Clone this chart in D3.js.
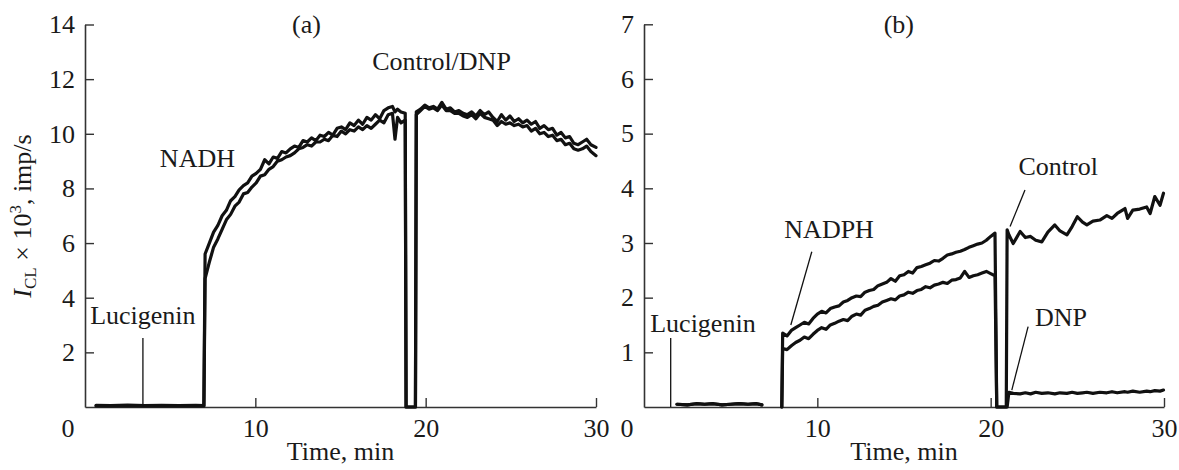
<!DOCTYPE html>
<html>
<head>
<meta charset="utf-8">
<script src="https://cdn.jsdelivr.net/npm/d3@7"></script>
<style>
  html, body { margin: 0; padding: 0; background: #fff; }
  svg { display: block; }
  text { font-family: 'Liberation Serif', 'Times New Roman', serif; fill: #1a1a1a; }
</style>
</head>
<body>
<script>
// ---------- Panel (a): NADH, two runs (Control / DNP) ----------
const timeA = [0.65,1.5,2.5,3.5,4.5,5.5,6.5,6.98,
  7.05,7.3,7.55,7.8,8.05,8.3,8.55,8.8,9.05,9.3,9.55,9.8,10.05,10.3,10.55,10.8,11.05,11.3,11.55,11.8,
  12.05,12.3,12.55,12.8,13.05,13.3,13.55,13.8,14.05,14.3,14.55,14.8,15.05,15.3,15.55,15.8,16.05,16.3,
  16.55,16.8,17.05,17.3,17.55,17.8,18.05,18.2,18.35,18.55,18.8,18.85,19.4,
  19.45,19.7,19.95,20.2,20.45,20.7,20.95,21.2,21.45,21.7,21.95,22.2,22.45,22.7,22.95,23.2,23.45,23.7,
  23.95,24.2,24.45,24.7,24.95,25.2,25.45,25.7,25.95,26.2,26.45,26.7,26.95,27.2,27.45,27.7,27.95,28.2,
  28.45,28.7,28.95,29.2,29.45,29.7,30.0];
const upperA = [0.06,0.05,0.07,0.05,0.06,0.05,0.06,0.05,
  5.6,6.0,6.4,6.65,7.0,7.2,7.55,7.7,7.95,8.1,8.2,8.45,8.55,8.7,9.05,8.9,9.15,9.1,9.35,9.3,
  9.45,9.55,9.5,9.75,9.7,9.85,9.75,9.95,9.9,10.05,9.95,10.2,10.25,10.15,10.4,10.3,10.5,10.35,
  10.6,10.5,10.7,10.55,10.85,10.95,11.0,10.8,10.9,10.8,10.75,0,0,
  10.8,10.9,11.05,10.95,11.0,10.9,11.15,10.9,10.95,10.8,10.85,10.75,10.7,10.8,10.65,10.85,10.7,10.8,
  10.6,10.45,10.7,10.5,10.65,10.45,10.55,10.4,10.5,10.35,10.45,10.2,10.3,10.15,10.2,9.95,10.05,9.85,
  9.9,9.65,9.6,9.7,9.8,9.6,9.5];
const lowerA = [0.04,0.04,0.05,0.04,0.05,0.04,0.04,0.04,
  4.7,5.3,5.85,6.15,6.5,6.85,7.05,7.35,7.5,7.8,7.85,8.05,8.2,8.45,8.5,8.7,8.8,9.0,9.05,9.15,
  9.2,9.3,9.45,9.5,9.6,9.55,9.7,9.7,9.8,9.75,9.95,9.9,10.1,10.0,10.15,10.1,10.25,10.15,
  10.3,10.2,10.35,10.5,10.4,10.7,10.75,9.8,10.6,10.4,10.5,0,0,
  10.7,10.85,11.0,10.9,10.95,10.85,11.05,10.85,10.85,10.75,10.75,10.65,10.6,10.7,10.55,10.75,10.6,10.55,
  10.5,10.3,10.45,10.35,10.4,10.3,10.35,10.25,10.3,10.1,10.2,10.0,10.05,9.9,9.95,9.75,9.8,9.6,
  9.65,9.45,9.4,9.45,9.55,9.35,9.2];

// ---------- Panel (b): NADPH, Control / DNP ----------
const timeB = [1.9,2.5,3.0,3.5,4.0,4.5,5.0,5.5,6.0,6.5,6.8,6.9,7.95,
  8.0,8.25,8.5,8.75,9.0,9.25,9.5,9.75,10.0,10.25,10.5,10.75,11.0,11.25,11.5,11.75,12.0,12.25,12.5,
  12.75,13.0,13.25,13.5,13.75,14.0,14.25,14.5,14.75,15.0,15.25,15.5,15.75,16.0,16.25,16.5,16.75,17.0,
  17.25,17.5,17.75,18.0,18.25,18.5,18.75,19.0,19.25,19.5,19.75,20.0,20.25,20.35,20.9,
  20.95,21.05,21.3,21.7,22.0,22.3,22.6,22.95,23.3,23.7,24.0,24.4,24.7,25.0,25.3,25.55,25.9,26.3,
  26.7,27.0,27.3,27.75,27.9,28.2,28.6,29.0,29.2,29.47,29.77,29.97];
const controlB = [0.05,0.04,0.06,0.05,0.06,0.04,0.05,0.06,0.05,0.06,0.04,null,0,
  1.35,1.3,1.4,1.45,1.5,1.55,1.52,1.62,1.7,1.75,1.72,1.8,1.83,1.85,1.92,1.95,2.0,2.03,2.02,
  2.1,2.13,2.15,2.22,2.25,2.28,2.35,2.3,2.4,2.42,2.48,2.45,2.55,2.57,2.6,2.63,2.68,2.67,
  2.72,2.78,2.8,2.83,2.85,2.88,2.92,2.95,2.98,3.0,3.05,3.12,3.18,0,0,
  3.24,3.15,2.99,3.21,3.1,3.12,3.05,3.02,3.2,3.33,3.22,3.15,3.3,3.48,3.38,3.33,3.4,3.42,
  3.5,3.45,3.54,3.63,3.45,3.6,3.62,3.66,3.54,3.85,3.69,3.91];
const dnpB = [0.05,0.04,0.06,0.05,0.06,0.04,0.05,0.06,0.05,0.06,0.04,null,0,
  1.07,1.05,1.12,1.18,1.22,1.28,1.25,1.33,1.4,1.45,1.42,1.5,1.53,1.57,1.6,1.58,1.66,1.7,1.68,
  1.77,1.8,1.84,1.86,1.92,1.95,1.98,1.96,2.03,2.05,2.1,2.08,2.13,2.15,2.2,2.18,2.23,2.25,
  2.28,2.26,2.32,2.33,2.36,2.48,2.37,2.4,2.42,2.45,2.48,2.44,2.4,0,0,
  0,0.27,0.25,0.24,0.26,0.24,0.27,0.25,0.26,0.24,0.26,0.25,0.27,0.25,0.26,0.27,0.25,0.27,
  0.26,0.28,0.26,0.28,0.27,0.29,0.27,0.29,0.28,0.30,0.29,0.31];

// ---------- Axis ticks ----------
const xTicks = [10, 20, 30];
const yTicksA = [2, 4, 6, 8, 10, 12, 14];
const yTicksB = [1, 2, 3, 4, 5, 6, 7];

const W = 1179, H = 470, FS = 26;
const svg = d3.select("body").append("svg").attr("width", W).attr("height", H);

const xA = d3.scaleLinear().domain([0, 30]).range([85, 596]);
const yA = d3.scaleLinear().domain([0, 14]).range([407, 24.5]);
const xB = d3.scaleLinear().domain([0, 30]).range([644, 1164]);
const yB = d3.scaleLinear().domain([0, 7]).range([407, 24.3]);

function drawAxes(x, y, yTicks) {
  const gx = svg.append("g").attr("transform", `translate(0,${y(0)})`)
    .call(d3.axisBottom(x).tickValues(xTicks).tickFormat(d3.format("d"))
      .tickSizeInner(-9).tickSizeOuter(0).tickPadding(11.5));
  const gy = svg.append("g").attr("transform", `translate(${x(0)},0)`)
    .call(d3.axisLeft(y).tickValues(yTicks).tickFormat(d3.format("d"))
      .tickSizeInner(-9).tickSizeOuter(0).tickPadding(10));
  [gx, gy].forEach(g => {
    g.select(".domain").attr("stroke", "#333").attr("stroke-width", 1.6);
    g.selectAll(".tick line").attr("stroke", "#333").attr("stroke-width", 1.4);
    g.selectAll(".tick text").attr("font-size", FS).attr("fill", "#1a1a1a")
      .attr("font-family", "'Liberation Serif', 'Times New Roman', serif");
  });
  svg.append("text").attr("x", x(0) - 17).attr("y", 437).attr("text-anchor", "middle")
    .attr("font-size", FS).text("0");
  svg.append("text").attr("x", (x.range()[0] + x.range()[1]) / 2).attr("y", 460)
    .attr("text-anchor", "middle").attr("font-size", FS).text("Time, min");
}
drawAxes(xA, yA, yTicksA);
drawAxes(xB, yB, yTicksB);

function drawCurve(x, y, times, vals) {
  const pts = times.map((t, i) => ({ t, v: vals[i] }));
  const line = d3.line().defined(d => d.v != null).x(d => x(d.t)).y(d => y(d.v));
  svg.append("path").datum(pts).attr("d", line).attr("fill", "none")
    .attr("stroke", "#111").attr("stroke-width", 3.2).attr("stroke-linejoin", "round").attr("stroke-linecap", "round");
}
drawCurve(xA, yA, timeA, upperA);
drawCurve(xA, yA, timeA, lowerA);
drawCurve(xB, yB, timeB, controlB);
drawCurve(xB, yB, timeB, dnpB);

function label(x, y, t, v, txt) {
  svg.append("text").attr("x", x(t)).attr("y", y(v)).attr("text-anchor", "middle")
    .attr("font-size", FS).text(txt);
}
function pointer(x, y, t1, v1, t2, v2) {
  svg.append("line").attr("x1", x(t1)).attr("y1", y(v1)).attr("x2", x(t2)).attr("y2", y(v2))
    .attr("stroke", "#111").attr("stroke-width", 1.3);
}
// panel a annotations
label(xA, yA, 13, 13.69, "(a)");
label(xA, yA, 20.93, 12.33, "Control/DNP");
label(xA, yA, 6.6, 8.78, "NADH");
label(xA, yA, 3.4, 3.05, "Lucigenin");
pointer(xA, yA, 3.4, 2.53, 3.4, 0);
// panel b annotations
label(xB, yB, 14.7, 6.84, "(b)");
label(xB, yB, 10.68, 3.09, "NADPH");
pointer(xB, yB, 9.68, 2.84, 8.47, 1.5);
label(xB, yB, 3.4, 1.37, "Lucigenin");
pointer(xB, yB, 1.54, 1.26, 1.54, 0);
label(xB, yB, 23.9, 4.24, "Control");
pointer(xB, yB, 21.98, 3.97, 21.12, 3.3);
label(xB, yB, 24.06, 1.48, "DNP");
pointer(xB, yB, 22.16, 1.47, 21.22, 0.31);

// y-axis title
const yt = svg.append("text").attr("transform", "translate(31,216) rotate(-90)")
  .attr("text-anchor", "middle").attr("font-size", FS);
yt.append("tspan").attr("font-style", "italic").text("I");
yt.append("tspan").attr("font-size", 17).attr("dy", 5).text("CL");
yt.append("tspan").attr("dy", -5).text(" × 10");
yt.append("tspan").attr("font-size", 17).attr("dy", -10).text("3");
yt.append("tspan").attr("dy", 10).text(", imp/s");
</script>
</body>
</html>
